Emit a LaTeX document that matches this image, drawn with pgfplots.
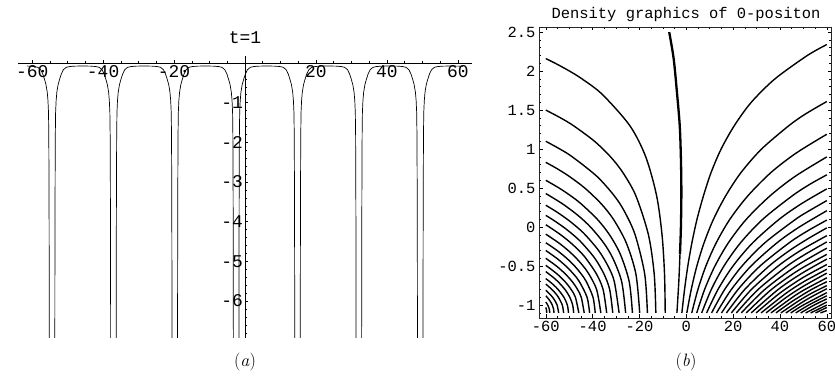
\documentclass[border=0pt]{standalone}
\usepackage{pgfplots}
\pgfplotsset{compat=1.18}
\usepackage{fontspec}
\setmonofont{Liberation Mono}
\newcommand{\fa}{\ttfamily\fontsize{18}{18}\selectfont}
\newcommand{\fb}{\ttfamily\fontsize{15.5}{15.5}\selectfont}
\pgfplotsset{
  ca/.style={black, solid, line width=0.7bp, no markers},
  cb/.style={black, solid, line width=1.4bp, no markers, smooth},
}
\begin{document}
\begin{tikzpicture}
\useasboundingbox (0,0) rectangle (835bp,378bp);
% ---------------- panel (a) ----------------
\begin{axis}[
  at={(18bp,40bp)}, anchor=south west, scale only axis,
  width=454bp, height=281.8bp,
  xmin=-64, xmax=64, ymin=-6.93, ymax=0.17,
  axis lines=middle, axis line style={-, line width=0.7bp},
  xtick={-60,-40,-20,20,40,60}, xticklabels={-60,-40,-20,20,40,60},
  minor xtick={-55,-50,-45,-35,-30,-25,-15,-10,-5,5,10,15,25,30,35,45,50,55},
  ytick={-6,-5,-4,-3,-2,-1}, yticklabels={-6,-5,-4,-3,-2,-1},
  minor ytick={-6.8,-6.6,-6.4,-6.2,-5.8,-5.6,-5.4,-5.2,-4.8,-4.6,-4.4,-4.2,-3.8,-3.6,-3.4,-3.2,-2.8,-2.6,-2.4,-2.2,-1.8,-1.6,-1.4,-1.2,-0.8,-0.6,-0.4,-0.2},
  tick align=inside, major tick length=3bp, minor tick length=1.6bp,
  tick style={black, line width=0.5bp},
  xticklabel style={font=\fa, inner sep=2bp},
  yticklabel style={font=\fa, inner sep=2bp},
]
\addplot[ca] coordinates {(-61.5,-0.079)(-60.9,-0.08)(-59.4,-0.09)(-58.4,-0.11)(-57.6,-0.17)(-57.0,-0.28)(-56.5,-0.42)(-56.1,-0.55)(-55.75,-0.74)(-55.55,-0.95)(-55.40,-1.25)(-55.32,-1.8)(-55.27,-2.8)(-55.23,-4.0)(-55.20,-5.5)(-55.18,-7.2)};
\addplot[ca] coordinates {(-53.62,-7.2)(-53.60,-5.5)(-53.57,-4.0)(-53.53,-2.8)(-53.48,-1.8)(-53.40,-1.25)(-53.25,-0.95)(-53.05,-0.74)(-52.70,-0.55)(-52.30,-0.42)(-51.80,-0.28)(-51.20,-0.17)(-50.40,-0.11)(-49.40,-0.09)(-47.90,-0.08)(-45.75,-0.078)(-43.60,-0.08)(-42.10,-0.09)(-41.10,-0.11)(-40.30,-0.17)(-39.70,-0.28)(-39.20,-0.42)(-38.80,-0.55)(-38.45,-0.74)(-38.25,-0.95)(-38.10,-1.25)(-38.02,-1.8)(-37.97,-2.8)(-37.93,-4.0)(-37.90,-5.5)(-37.88,-7.2)};
\addplot[ca] coordinates {(-36.32,-7.2)(-36.30,-5.5)(-36.27,-4.0)(-36.23,-2.8)(-36.18,-1.8)(-36.10,-1.25)(-35.95,-0.95)(-35.75,-0.74)(-35.40,-0.55)(-35.00,-0.42)(-34.50,-0.28)(-33.90,-0.17)(-33.10,-0.11)(-32.10,-0.09)(-30.60,-0.08)(-28.45,-0.078)(-26.30,-0.08)(-24.80,-0.09)(-23.80,-0.11)(-23.00,-0.17)(-22.40,-0.28)(-21.90,-0.42)(-21.50,-0.55)(-21.15,-0.74)(-20.95,-0.95)(-20.80,-1.25)(-20.72,-1.8)(-20.67,-2.8)(-20.63,-4.0)(-20.60,-5.5)(-20.58,-7.2)};
\addplot[ca] coordinates {(-19.02,-7.2)(-19.00,-5.5)(-18.97,-4.0)(-18.93,-2.8)(-18.88,-1.8)(-18.80,-1.25)(-18.65,-0.95)(-18.45,-0.74)(-18.10,-0.55)(-17.70,-0.42)(-17.20,-0.28)(-16.60,-0.17)(-15.80,-0.11)(-14.80,-0.09)(-13.30,-0.08)(-11.15,-0.078)(-9.00,-0.08)(-7.50,-0.09)(-6.50,-0.11)(-5.70,-0.17)(-5.10,-0.28)(-4.60,-0.42)(-4.20,-0.55)(-3.85,-0.74)(-3.65,-0.95)(-3.50,-1.25)(-3.42,-1.8)(-3.37,-2.8)(-3.33,-4.0)(-3.30,-5.5)(-3.28,-7.2)};
\addplot[ca] coordinates {(-1.72,-7.2)(-1.70,-5.5)(-1.67,-4.0)(-1.63,-2.8)(-1.58,-1.8)(-1.50,-1.25)(-1.35,-0.95)(-1.15,-0.74)(-0.80,-0.55)(-0.40,-0.42)(0.10,-0.28)(0.70,-0.17)(1.50,-0.11)(2.50,-0.09)(4.00,-0.08)(6.15,-0.078)(8.30,-0.08)(9.80,-0.09)(10.80,-0.11)(11.60,-0.17)(12.20,-0.28)(12.70,-0.42)(13.10,-0.55)(13.45,-0.74)(13.65,-0.95)(13.80,-1.25)(13.88,-1.8)(13.93,-2.8)(13.97,-4.0)(14.00,-5.5)(14.02,-7.2)};
\addplot[ca] coordinates {(15.58,-7.2)(15.60,-5.5)(15.63,-4.0)(15.67,-2.8)(15.72,-1.8)(15.80,-1.25)(15.95,-0.95)(16.15,-0.74)(16.50,-0.55)(16.90,-0.42)(17.40,-0.28)(18.00,-0.17)(18.80,-0.11)(19.80,-0.09)(21.30,-0.08)(23.45,-0.078)(25.60,-0.08)(27.10,-0.09)(28.10,-0.11)(28.90,-0.17)(29.50,-0.28)(30.00,-0.42)(30.40,-0.55)(30.75,-0.74)(30.95,-0.95)(31.10,-1.25)(31.18,-1.8)(31.23,-2.8)(31.27,-4.0)(31.30,-5.5)(31.32,-7.2)};
\addplot[ca] coordinates {(32.88,-7.2)(32.90,-5.5)(32.93,-4.0)(32.97,-2.8)(33.02,-1.8)(33.10,-1.25)(33.25,-0.95)(33.45,-0.74)(33.80,-0.55)(34.20,-0.42)(34.70,-0.28)(35.30,-0.17)(36.10,-0.11)(37.10,-0.09)(38.60,-0.08)(40.75,-0.078)(42.90,-0.08)(44.40,-0.09)(45.40,-0.11)(46.20,-0.17)(46.80,-0.28)(47.30,-0.42)(47.70,-0.55)(48.05,-0.74)(48.25,-0.95)(48.40,-1.25)(48.48,-1.8)(48.53,-2.8)(48.57,-4.0)(48.60,-5.5)(48.62,-7.2)};
\addplot[ca] coordinates {(50.18,-7.2)(50.20,-5.5)(50.23,-4.0)(50.27,-2.8)(50.32,-1.8)(50.40,-1.25)(50.55,-0.95)(50.75,-0.74)(51.10,-0.55)(51.50,-0.42)(52.00,-0.28)(52.60,-0.17)(53.40,-0.11)(54.40,-0.09)(55.90,-0.08)(58.05,-0.078)(60.20,-0.08)(61.5,-0.085)};
\end{axis}
% ---------------- panel (b) ----------------
\begin{axis}[
  at={(539bp,60bp)}, anchor=south west, scale only axis,
  width=292bp, height=291bp,
  xmin=-62.9, xmax=61.8, ymin=-1.165, ymax=2.565,
  axis line style={line width=0.8bp, black!85},
  xtick={-60,-40,-20,0,20,40,60}, xticklabels={-60,-40,-20,0,20,40,60},
  minor xtick={-55,-50,-45,-35,-30,-25,-15,-10,-5,5,10,15,25,30,35,45,50,55},
  ytick={-1,-0.5,0,0.5,1,1.5,2,2.5}, yticklabels={-1,-0.5,0,0.5,1,1.5,2,2.5},
  minor ytick={-1.1,-0.9,-0.8,-0.7,-0.6,-0.4,-0.3,-0.2,-0.1,0.1,0.2,0.3,0.4,0.6,0.7,0.8,0.9,1.1,1.2,1.3,1.4,1.6,1.7,1.8,1.9,2.1,2.2,2.3,2.4},
  tick align=inside, major tick length=3.5bp, minor tick length=2bp,
  tick style={black, line width=0.5bp},
  xticklabel style={font=\fb}, yticklabel style={font=\fb},
]
% centre line
\addplot[cb, line width=2.3bp] coordinates {(-7.3,2.5)(-5.4,2.16)(-4.0,1.73)(-2.8,1.30)(-2.3,0.88)(-2.1,0.45)(-2.3,0.0)(-2.7,-0.35)};
\addplot[cb] coordinates {(-2.7,-0.35)(-3.2,-0.7)(-4.0,-1.1)};
% left family
\addplot[cb] coordinates {(-9,-1.1)(-9.30,-0.6)(-10.36,-0.1)(-12.66,0.4)(-17.31,0.9)(-24.11,1.3)(-35.84,1.7)(-44.55,1.9)(-49.88,2.0)(-55.96,2.1)(-60,2.16)};
\addplot[cb] coordinates {(-13,-1.1)(-13.71,-0.6)(-16.16,-0.1)(-21.52,0.4)(-27.11,0.7)(-32.33,0.9)(-39.19,1.1)(-48.18,1.3)(-53.70,1.4)(-60,1.5)};
\addplot[cb] coordinates {(-16.6,-1.1)(-17.77,-0.6)(-21.84,-0.1)(-26.39,0.2)(-30.72,0.4)(-38.16,0.65)(-48.64,0.9)(-53.94,1.0)(-60,1.1)};
\addplot[cb] coordinates {(-19.9,-1.1)(-21.53,-0.6)(-25.66,-0.2)(-31.12,0.1)(-36.37,0.3)(-43.33,0.5)(-49.98,0.65)(-55.23,0.75)(-60,0.83)};
\addplot[cb] coordinates {(-23,-1.1)(-24.37,-0.7)(-28.14,-0.35)(-32.76,-0.1)(-37.99,0.1)(-44.99,0.3)(-49.31,0.4)(-54.28,0.5)(-60,0.6)};
\addplot[cb] coordinates {(-25.9,-1.1)(-27.59,-0.7)(-31.35,-0.4)(-35.35,-0.2)(-40.88,0.0)(-46.26,0.15)(-52.95,0.3)(-60,0.43)};
\addplot[cb] coordinates {(-28.7,-1.1)(-30.73,-0.7)(-33.41,-0.5)(-37.44,-0.3)(-43.10,-0.1)(-46.68,0.0)(-50.82,0.1)(-55.62,0.2)(-60,0.28)};
\addplot[cb] coordinates {(-31.4,-1.1)(-32.72,-0.8)(-35.17,-0.6)(-39.06,-0.4)(-44.68,-0.2)(-48.26,-0.1)(-52.44,0.0)(-57.29,0.1)(-60,0.15)};
\addplot[cb] coordinates {(-34,-1.1)(-35.53,-0.8)(-38.37,-0.6)(-42.89,-0.4)(-45.86,-0.3)(-49.40,-0.2)(-53.56,-0.1)(-58.41,0.0)(-60,0.03)};
\addplot[cb] coordinates {(-36.5,-1.1)(-38.30,-0.8)(-41.63,-0.6)(-44.01,-0.5)(-46.94,-0.4)(-50.43,-0.3)(-54.59,-0.2)(-60,-0.09)};
\addplot[cb] coordinates {(-38.9,-1.1)(-39.83,-0.9)(-42.67,-0.7)(-44.89,-0.6)(-47.66,-0.5)(-51.07,-0.4)(-55.15,-0.3)(-60,-0.2)};
\addplot[cb] coordinates {(-41.3,-1.1)(-42.37,-0.9)(-45.64,-0.7)(-48.19,-0.6)(-51.39,-0.5)(-55.31,-0.4)(-60,-0.3)};
\addplot[cb] coordinates {(-43.6,-1.1)(-44.85,-0.9)(-46.43,-0.8)(-48.68,-0.7)(-51.67,-0.6)(-55.41,-0.5)(-60,-0.4)};
\addplot[cb] coordinates {(-45.9,-1.1)(-47.34,-0.9)(-49.16,-0.8)(-51.76,-0.7)(-55.20,-0.6)(-60,-0.49)};
\addplot[cb] coordinates {(-48.1,-1.1)(-48.51,-1.0)(-49.73,-0.9)(-51.80,-0.8)(-54.75,-0.7)(-56.58,-0.65)(-60,-0.57)};
\addplot[cb] coordinates {(-50.3,-1.1)(-50.79,-1.0)(-52.25,-0.9)(-54.73,-0.8)(-56.37,-0.75)(-58.26,-0.7)(-60,-0.66)};
\addplot[cb] coordinates {(-52.4,-1.1)(-52.94,-1.0)(-54.59,-0.9)(-55.83,-0.85)(-57.35,-0.8)(-60,-0.73)};
\addplot[cb] coordinates {(-54.5,-1.1)(-55.15,-1.0)(-55.96,-0.95)(-57.09,-0.9)(-58.58,-0.85)(-60,-0.81)};
\addplot[cb] coordinates {(-56.5,-1.1)(-56.68,-1.05)(-57.22,-1.0)(-58.12,-0.95)(-59.38,-0.9)(-60,-0.88)};
\addplot[cb] coordinates {(-58.3,-1.1)(-58.52,-1.05)(-59.16,-1.0)(-60,-0.96)};
\addplot[cb] coordinates {(-59.6,-1.1)(-59.7,-1.06)(-60,-1.03)};
% right family
\addplot[cb] coordinates {(-1.89,-1.1)(-0.75,-0.8)(0.65,-0.5)(2.40,-0.2)(4.57,0.1)(7.32,0.4)(10.59,0.7)(14.86,1.0)(20.50,1.3)(27.75,1.6)(37.86,1.9)(51.71,2.2)(60,2.34)};
\addplot[cb] coordinates {(0.23,-1.1)(2.11,-0.8)(4.50,-0.5)(7.60,-0.2)(11.59,0.1)(16.80,0.4)(23.38,0.7)(32.12,1.0)(43.80,1.3)(50.9,1.45)(60,1.61)};
\addplot[cb] coordinates {(2.34,-1.1)(4.96,-0.8)(8.35,-0.5)(12.80,-0.2)(18.60,0.1)(26.27,0.4)(36.16,0.7)(46.96,0.95)(60,1.19)};
\addplot[cb] coordinates {(4.46,-1.1)(7.81,-0.8)(12.21,-0.5)(17.99,-0.2)(25.62,0.1)(35.74,0.4)(46.45,0.65)(60,0.90)};
\addplot[cb] coordinates {(6.57,-1.1)(10.67,-0.8)(16.06,-0.5)(23.19,-0.2)(32.64,0.1)(45.21,0.4)(52.83,0.55)(60,0.67)};
\addplot[cb] coordinates {(8.68,-1.1)(13.52,-0.8)(19.91,-0.5)(28.39,-0.2)(39.66,0.1)(49.18,0.3)(60,0.49)};
\addplot[cb] coordinates {(10.80,-1.1)(16.37,-0.8)(23.76,-0.5)(33.59,-0.2)(46.68,0.1)(51.94,0.2)(60,0.34)};
\addplot[cb] coordinates {(12.91,-1.1)(19.22,-0.8)(27.61,-0.5)(38.79,-0.2)(48.2,0.0)(60,0.21)};
\addplot[cb] coordinates {(15.03,-1.1)(22.08,-0.8)(31.46,-0.5)(43.99,-0.2)(51.71,-0.05)(60,0.09)};
\addplot[cb] coordinates {(17.14,-1.1)(24.93,-0.8)(35.31,-0.5)(44.09,-0.3)(51.9,-0.15)(60,-0.01)};
\addplot[cb] coordinates {(19.25,-1.1)(27.78,-0.8)(39.16,-0.5)(48.79,-0.3)(60,-0.11)};
\addplot[cb] coordinates {(21.37,-1.1)(30.64,-0.8)(43.02,-0.5)(50.7,-0.35)(60,-0.19)};
\addplot[cb] coordinates {(23.48,-1.1)(33.49,-0.8)(46.87,-0.5)(60,-0.27)};
\addplot[cb] coordinates {(25.59,-1.1)(36.34,-0.8)(48.04,-0.55)(60,-0.35)};
\addplot[cb] coordinates {(27.71,-1.1)(39.20,-0.8)(48.92,-0.6)(60,-0.41)};
\addplot[cb] coordinates {(29.82,-1.1)(39.78,-0.85)(49.64,-0.65)(60,-0.48)};
\addplot[cb] coordinates {(31.94,-1.1)(42.49,-0.85)(50.16,-0.7)(60,-0.54)};
\addplot[cb] coordinates {(34.05,-1.1)(42.72,-0.9)(50.45,-0.75)(60,-0.59)};
\addplot[cb] coordinates {(36.16,-1.1)(45.31,-0.9)(50.61,-0.8)(60,-0.65)};
\addplot[cb] coordinates {(38.28,-1.1)(45.31,-0.95)(53.46,-0.8)(60,-0.70)};
\addplot[cb] coordinates {(40.39,-1.1)(47.77,-0.95)(53.34,-0.85)(60,-0.75)};
\addplot[cb] coordinates {(42.51,-1.1)(50.22,-0.95)(54.89,-0.87)(60,-0.79)};
\addplot[cb] coordinates {(44.62,-1.1)(49.88,-1.0)(60,-0.84)};
\addplot[cb] coordinates {(46.73,-1.1)(52.22,-1.0)(60,-0.88)};
\addplot[cb] coordinates {(48.85,-1.1)(54.55,-1.0)(60,-0.92)};
\addplot[cb] coordinates {(50.96,-1.1)(60,-0.96)};
\addplot[cb] coordinates {(53.08,-1.1)(60,-1.00)};
\addplot[cb] coordinates {(55.19,-1.1)(60,-1.03)};
\addplot[cb] coordinates {(57.30,-1.1)(60,-1.07)};
\end{axis}
\node[font=\fa] at (245bp,340bp) {t=1};
\node[font=\fb] at (686bp,363bp) {Density graphics of 0-positon};
\node[inner sep=0pt] at (245bp,16bp) {\fontsize{18}{18}\selectfont(\textit{a})};
\node[inner sep=0pt] at (686bp,16bp) {\fontsize{18}{18}\selectfont(\textit{b})};
\end{tikzpicture}
\end{document}
